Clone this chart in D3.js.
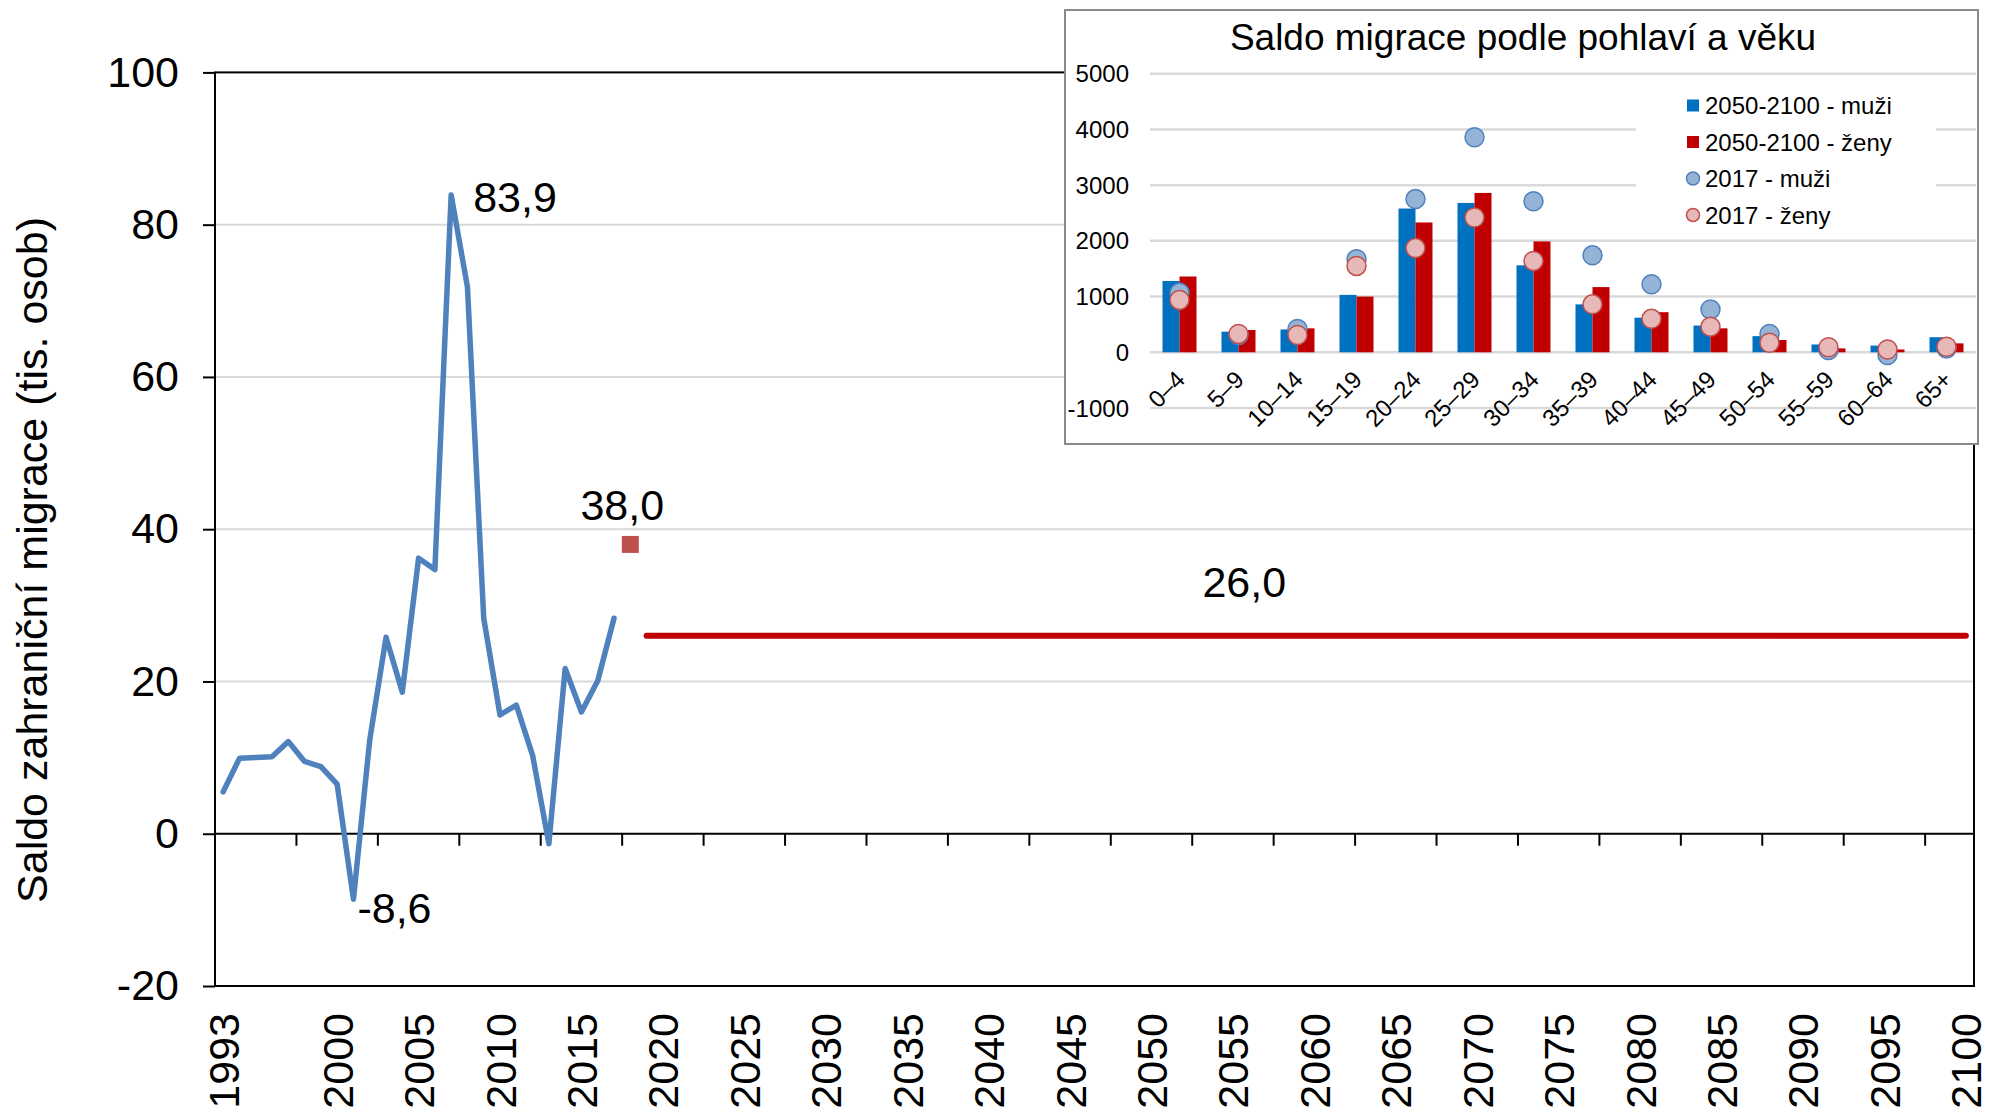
<!DOCTYPE html>
<html>
<head>
<meta charset="utf-8">
<script src="https://cdn.jsdelivr.net/npm/d3@7"></script>
<style>
body { margin: 0; background: #fff; }
text { font-family: "Liberation Sans", Arial, sans-serif; fill: #000; }
</style>
</head>
<body>
<div id="chart"></div>
<script>
// main chart data (tis. osob)
const years = d3.range(1993, 2101);
const histYears = [1993, 1994, 1995, 1996, 1997, 1998, 1999, 2000, 2001, 2002, 2003, 2004, 2005,
    2006, 2007, 2008, 2009, 2010, 2011, 2012, 2013, 2014, 2015, 2016, 2017];
const histValues = [5.5, 9.9, 10.0, 10.1, 12.1, 9.5, 8.8, 6.5, -8.6, 12.3, 25.8, 18.6, 36.2,
    34.7, 83.9, 71.8, 28.3, 15.6, 16.9, 10.3, -1.3, 21.7, 16.0, 20.1, 28.3];
const estYear = 2018;
const estValue = 38.0;
const projYears = [2019, 2100];
const projValues = [26.0, 26.0];
const xTickLabels = [1993, 2000, 2005, 2010, 2015, 2020, 2025, 2030, 2035, 2040, 2045, 2050,
    2055, 2060, 2065, 2070, 2075, 2080, 2085, 2090, 2095, 2100];
const xTickMarks = [1998, 2003, 2008, 2013, 2018, 2023, 2028, 2033, 2038, 2043, 2048, 2053,
    2058, 2063, 2068, 2073, 2078, 2083, 2088, 2093, 2098];
const yTicks = [-20, 0, 20, 40, 60, 80, 100];

// inset data
const ageGroups = ['0–4', '5–9', '10–14', '15–19', '20–24', '25–29', '30–34', '35–39',
    '40–44', '45–49', '50–54', '55–59', '60–64', '65+'];
const projMale = [1280, 370, 410, 1030, 2580, 2680, 1560, 860, 620, 480, 290, 140, 120, 270];
const projFemale = [1360, 400, 430, 1000, 2330, 2860, 1990, 1170, 720, 430, 220, 70, 50, 160];
const obsMale = [1070, 310, 420, 1670, 2750, 3860, 2710, 1740, 1220, 770, 330, 40, -50, 70];
const obsFemale = [940, 330, 310, 1550, 1870, 2420, 1640, 860, 600, 460, 170, 90, 50, 100];
const insetTicks = [-1000, 0, 1000, 2000, 3000, 4000, 5000];
const legendLabels = ['2050-2100 - muži', '2050-2100 - ženy', '2017 - muži', '2017 - ženy'];

const svgWidth = 1993;
const svgHeight = 1109;
const mainFont = '43px';
const insetFont = '24px';

const svg = d3.select('#chart')
    .append('svg')
    .attr('width', svgWidth)
    .attr('height', svgHeight);

const xScale = d3.scaleBand()
    .domain(years)
    .range([215, 1974]);
const bw = xScale.bandwidth();
const cx = yr => xScale(yr) + bw / 2;

const yScale = d3.scaleLinear()
    .domain([-20, 100])
    .range([986, 72.4]);

const fmt = v => v.toFixed(1).replace('.', ',');

// gridlines
svg.append('g')
    .selectAll('line')
    .data([20, 40, 60, 80])
    .enter().append('line')
    .attr('x1', 215).attr('x2', 1974)
    .attr('y1', d => yScale(d)).attr('y2', d => yScale(d))
    .attr('stroke', '#d9d9d9')
    .attr('stroke-width', 2);

// plot border
svg.append('rect')
    .attr('x', 215).attr('y', yScale(100))
    .attr('width', 1974 - 215).attr('height', yScale(-20) - yScale(100))
    .attr('fill', 'none')
    .attr('stroke', '#000')
    .attr('stroke-width', 2);

// y axis
const yAxis = svg.append('g')
    .attr('transform', 'translate(215,0)')
    .call(d3.axisLeft(yScale).tickValues(yTicks).tickSize(12).tickPadding(24).tickFormat(d => d));
yAxis.select('.domain').remove();
yAxis.selectAll('line').attr('stroke', '#000').attr('stroke-width', 2);
yAxis.selectAll('text').style('font-size', mainFont).attr('fill', '#000');

// zero line with tick marks
svg.append('line')
    .attr('x1', 215).attr('x2', 1974)
    .attr('y1', yScale(0)).attr('y2', yScale(0))
    .attr('stroke', '#000')
    .attr('stroke-width', 2);
svg.append('g')
    .selectAll('line')
    .data(xTickMarks)
    .enter().append('line')
    .attr('x1', d => xScale(d)).attr('x2', d => xScale(d))
    .attr('y1', yScale(0)).attr('y2', yScale(0) + 12)
    .attr('stroke', '#000')
    .attr('stroke-width', 2);

// x labels
svg.append('g')
    .selectAll('text')
    .data(xTickLabels)
    .enter().append('text')
    .attr('transform', d => 'translate(' + cx(d) + ',' + (yScale(-20) + 27) + ') rotate(-90)')
    .attr('text-anchor', 'end')
    .attr('dy', '0.36em')
    .style('font-size', mainFont)
    .text(d => d);

// y title
svg.append('text')
    .attr('transform', 'translate(32,560) rotate(-90)')
    .attr('text-anchor', 'middle')
    .attr('dy', '0.36em')
    .style('font-size', mainFont)
    .text('Saldo zahraniční migrace (tis. osob)');

// historical line
const line = d3.line()
    .x(d => cx(d[0]))
    .y(d => yScale(d[1]));

svg.append('path')
    .datum(d3.zip(histYears, histValues))
    .attr('fill', 'none')
    .attr('stroke', '#4f81bd')
    .attr('stroke-width', 5.5)
    .attr('stroke-linejoin', 'round')
    .attr('stroke-linecap', 'round')
    .attr('d', line);

// projection line
svg.append('path')
    .datum(d3.zip(projYears, projValues))
    .attr('fill', 'none')
    .attr('stroke', '#c00000')
    .attr('stroke-width', 6)
    .attr('stroke-linecap', 'round')
    .attr('d', line);

// estimate marker
svg.append('rect')
    .attr('x', cx(estYear) - 8.5)
    .attr('y', yScale(estValue) - 8.5)
    .attr('width', 17).attr('height', 17)
    .attr('fill', '#c0504d');

// data labels
function label(txt, x, y, anchor) {
    svg.append('text')
        .attr('x', x).attr('y', y)
        .attr('text-anchor', anchor)
        .attr('dy', '0.36em')
        .style('font-size', mainFont)
        .text(txt);
}
const peakI = histValues.indexOf(d3.max(histValues));
const lowI = histValues.indexOf(d3.min(histValues));
label(fmt(histValues[peakI]), cx(histYears[peakI]) + 22, yScale(histValues[peakI]) + 2, 'start');
label(fmt(histValues[lowI]), cx(histYears[lowI]) + 4, yScale(histValues[lowI]) + 8, 'start');
label(fmt(estValue), cx(estYear) - 8, yScale(estValue) - 40, 'middle');
label(fmt(projValues[0]), cx(2056) - 5, yScale(projValues[0]) - 54, 'middle');

// ---------------- inset ----------------
const inset = svg.append('g');
inset.append('rect')
    .attr('x', 1065).attr('y', 10)
    .attr('width', 913).attr('height', 434)
    .attr('fill', '#fff')
    .attr('stroke', '#898989')
    .attr('stroke-width', 2);

inset.append('text')
    .attr('x', 1523).attr('y', 37)
    .attr('text-anchor', 'middle')
    .attr('dy', '0.36em')
    .style('font-size', '37px')
    .text('Saldo migrace podle pohlaví a věku');

const ix = d3.scaleBand()
    .domain(ageGroups)
    .range([1150, 1976]);
const iy = d3.scaleLinear()
    .domain([-1000, 5000])
    .range([408, 73.7]);
const ibw = ix.bandwidth();
const barW = 17;

inset.append('g')
    .selectAll('line')
    .data(insetTicks)
    .enter().append('line')
    .attr('x1', 1150).attr('x2', 1976)
    .attr('y1', d => iy(d)).attr('y2', d => iy(d))
    .attr('stroke', '#d9d9d9')
    .attr('stroke-width', 2.5);

inset.append('g')
    .selectAll('text')
    .data(insetTicks)
    .enter().append('text')
    .attr('x', 1129)
    .attr('y', d => iy(d))
    .attr('dy', '0.36em')
    .attr('text-anchor', 'end')
    .style('font-size', insetFont)
    .text(d => d);

inset.append('g')
    .selectAll('rect')
    .data(projMale)
    .enter().append('rect')
    .attr('x', (d, i) => ix(ageGroups[i]) + ibw / 2 - barW)
    .attr('y', d => iy(Math.max(d, 0)))
    .attr('width', barW)
    .attr('height', d => Math.abs(iy(d) - iy(0)))
    .attr('fill', '#0070c0');

inset.append('g')
    .selectAll('rect')
    .data(projFemale)
    .enter().append('rect')
    .attr('x', (d, i) => ix(ageGroups[i]) + ibw / 2)
    .attr('y', d => iy(Math.max(d, 0)))
    .attr('width', barW)
    .attr('height', d => Math.abs(iy(d) - iy(0)))
    .attr('fill', '#c00000');

inset.append('g')
    .selectAll('circle')
    .data(obsMale)
    .enter().append('circle')
    .attr('cx', (d, i) => ix(ageGroups[i]) + ibw / 2)
    .attr('cy', d => iy(d))
    .attr('r', 9.5)
    .attr('fill', '#95b3d7')
    .attr('stroke', '#4f81bd')
    .attr('stroke-width', 1.5);

inset.append('g')
    .selectAll('circle')
    .data(obsFemale)
    .enter().append('circle')
    .attr('cx', (d, i) => ix(ageGroups[i]) + ibw / 2)
    .attr('cy', d => iy(d))
    .attr('r', 9.5)
    .attr('fill', '#e6b9b8')
    .attr('stroke', '#c0504d')
    .attr('stroke-width', 1.5);

inset.append('g')
    .selectAll('text')
    .data(ageGroups)
    .enter().append('text')
    .attr('transform', d => 'translate(' + (ix(d) + ibw / 2 + 7) + ',381) rotate(-45)')
    .attr('text-anchor', 'end')
    .style('font-size', insetFont)
    .text(d => d);

// legend
const legend = inset.append('g');
legend.append('rect')
    .attr('x', 1636).attr('y', 86)
    .attr('width', 300).attr('height', 146)
    .attr('fill', '#fff');
const legendY = d3.scalePoint().domain(legendLabels).range([105.5, 215]);
const legendStyle = [
    { shape: 'rect', fill: '#0070c0' },
    { shape: 'rect', fill: '#c00000' },
    { shape: 'circle', fill: '#95b3d7', stroke: '#4f81bd' },
    { shape: 'circle', fill: '#e6b9b8', stroke: '#c0504d' }
];
legendLabels.forEach((name, i) => {
    const ly = legendY(name);
    const st = legendStyle[i];
    if (st.shape === 'rect') {
        legend.append('rect')
            .attr('x', 1687).attr('y', ly - 6)
            .attr('width', 12).attr('height', 12)
            .attr('fill', st.fill);
    } else {
        legend.append('circle')
            .attr('cx', 1693).attr('cy', ly)
            .attr('r', 6.5)
            .attr('fill', st.fill)
            .attr('stroke', st.stroke)
            .attr('stroke-width', 1.5);
    }
    legend.append('text')
        .attr('x', 1705).attr('y', ly)
        .attr('dy', '0.36em')
        .style('font-size', insetFont)
        .text(name);
});
</script>
</body>
</html>
